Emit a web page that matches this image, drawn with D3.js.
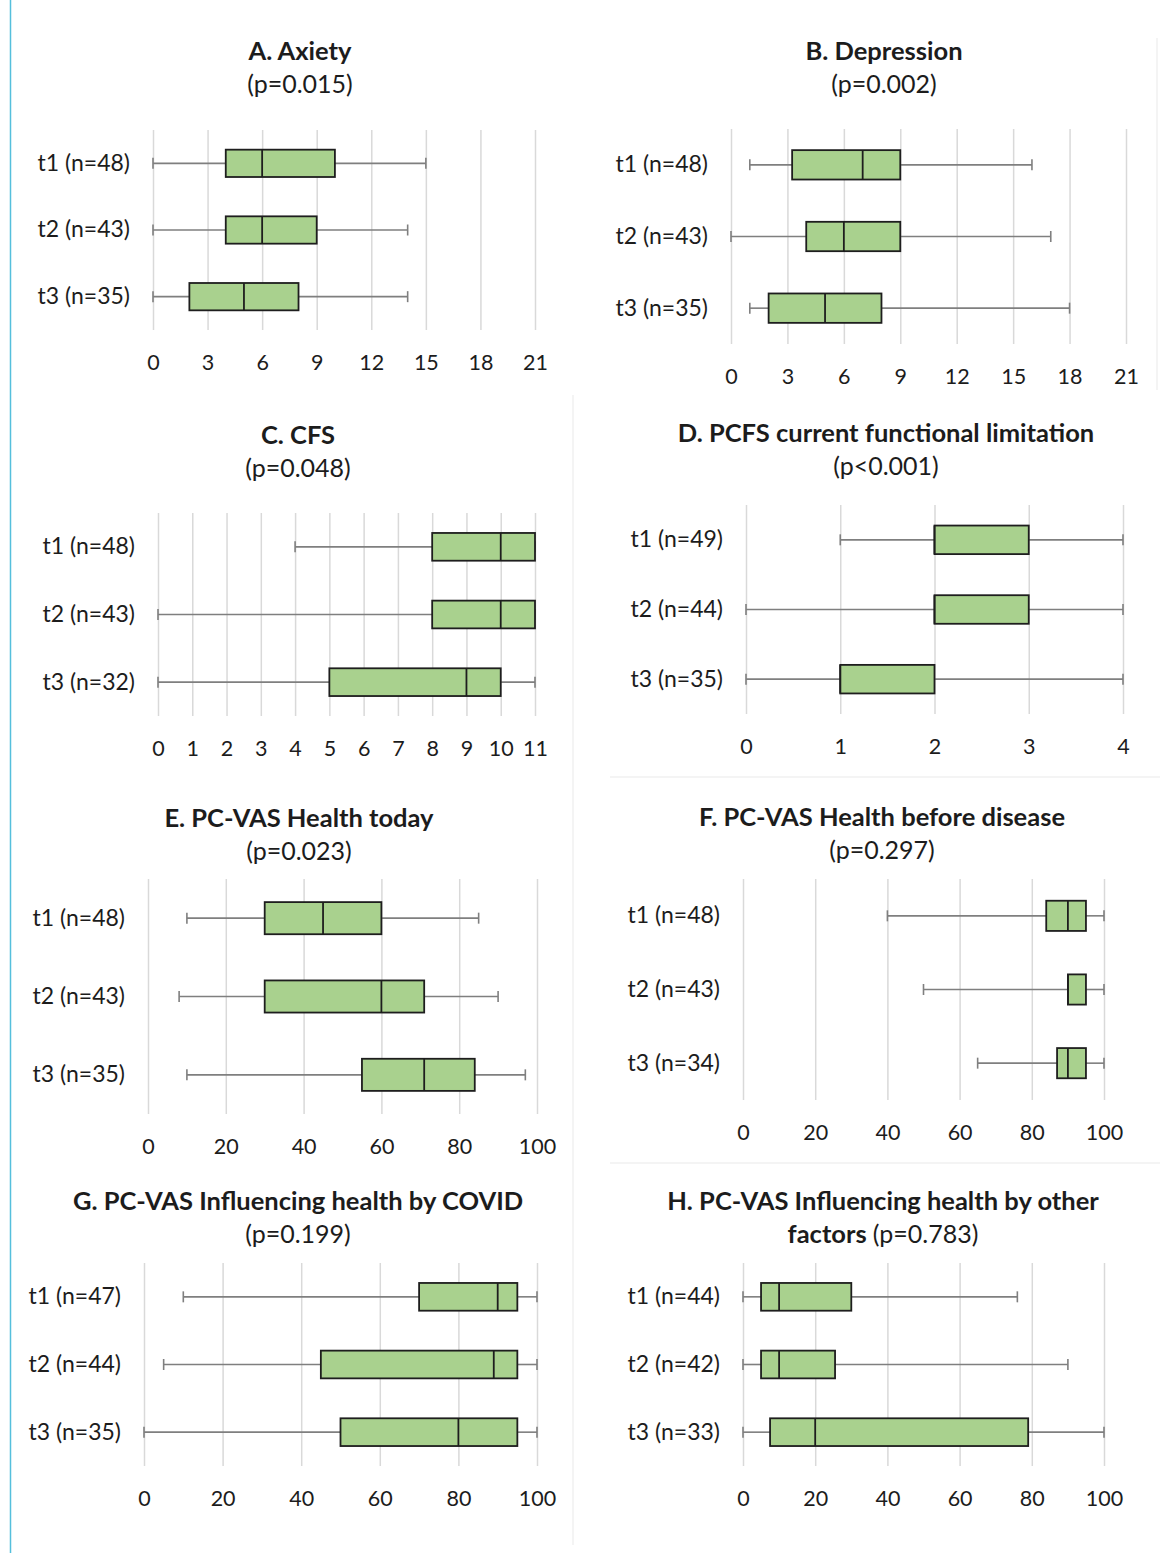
<!DOCTYPE html>
<html><head><meta charset="utf-8">
<script src="https://cdn.jsdelivr.net/npm/d3@7"></script>
<style>html,body{margin:0;padding:0;background:#fff;}svg{display:block;}</style>
</head><body>
<script>
// ---- data ----
const catsA = ["t1 (n=48)", "t2 (n=43)", "t3 (n=35)"];
const catsB = ["t1 (n=48)", "t2 (n=43)", "t3 (n=35)"];
const catsC = ["t1 (n=48)", "t2 (n=43)", "t3 (n=32)"];
const catsD = ["t1 (n=49)", "t2 (n=44)", "t3 (n=35)"];
const catsE = ["t1 (n=48)", "t2 (n=43)", "t3 (n=35)"];
const catsF = ["t1 (n=48)", "t2 (n=43)", "t3 (n=34)"];
const catsG = ["t1 (n=47)", "t2 (n=44)", "t3 (n=35)"];
const catsH = ["t1 (n=44)", "t2 (n=42)", "t3 (n=33)"];

// [min, q1, median, q3, max]
const boxA = [[0, 4, 6, 10, 15], [0, 4, 6, 9, 14], [0, 2, 5, 8, 14]];
const boxB = [[1, 3.25, 7, 9, 16], [0, 4, 6, 9, 17], [1, 2, 5, 8, 18]];
const boxC = [[4, 8, 10, 11, 11], [0, 8, 10, 11, 11], [0, 5, 9, 10, 11]];
const boxD = [[1, 2, 2, 3, 4], [0, 2, 2, 3, 4], [0, 1, 1, 2, 4]];
const boxE = [[10, 30, 45, 60, 85], [8, 30, 60, 71, 90], [10, 55, 71, 84, 97]];
const boxF = [[40, 84, 90, 95, 100], [50, 90, 90, 95, 100], [65, 87, 90, 95, 100]];
const boxG = [[10, 70, 90, 95, 100], [5, 45, 89, 95, 100], [0, 50, 80, 95, 100]];
const boxH = [[0, 5, 10, 30, 76], [0, 5, 10, 25.5, 90], [0, 7.5, 20, 79, 100]];

const ticksA = [0, 3, 6, 9, 12, 15, 18, 21];
const ticksB = [0, 3, 6, 9, 12, 15, 18, 21];
const ticksC = [0, 1, 2, 3, 4, 5, 6, 7, 8, 9, 10, 11];
const ticksD = [0, 1, 2, 3, 4];
const ticksVAS = [0, 20, 40, 60, 80, 100];

const titles = ["A. Axiety", "B. Depression", "C. CFS", "D. PCFS current functional limitation",
  "E. PC-VAS Health today", "F. PC-VAS Health before disease", "G. PC-VAS Influencing health by COVID",
  "H. PC-VAS Influencing health by other"];
const pvals = ["(p=0.015)", "(p=0.002)", "(p=0.048)", "(p<0.001)", "(p=0.023)", "(p=0.297)", "(p=0.199)", "(p=0.783)"];
const secondLineBold = ["", "", "", "", "", "", "", "factors"];

// ---- layout ----
const W = 1175, H = 1553;
const svg = d3.select("body").append("svg").attr("width", W).attr("height", H);
const FONT = "Lato, 'Open Sans', sans-serif";
const TXT = "#1c1c1c";

const panels = [
  {cats: catsA, boxes: boxA, ticks: ticksA, cx: 300, ty: 50, x0: 153, x1: 535, top: 130, bot: 330},
  {cats: catsB, boxes: boxB, ticks: ticksB, cx: 884, ty: 50, x0: 731, x1: 1126, top: 129, bot: 344},
  {cats: catsC, boxes: boxC, ticks: ticksC, cx: 298, ty: 434, x0: 158, x1: 535, top: 513, bot: 716},
  {cats: catsD, boxes: boxD, ticks: ticksD, cx: 886, ty: 432, x0: 746, x1: 1123, top: 505, bot: 714},
  {cats: catsE, boxes: boxE, ticks: ticksVAS, cx: 299, ty: 817, x0: 148, x1: 537, top: 879, bot: 1114},
  {cats: catsF, boxes: boxF, ticks: ticksVAS, cx: 882, ty: 816, x0: 743, x1: 1104, top: 879, bot: 1100},
  {cats: catsG, boxes: boxG, ticks: ticksVAS, cx: 298, ty: 1200, x0: 144, x1: 537, top: 1263, bot: 1466},
  {cats: catsH, boxes: boxH, ticks: ticksVAS, cx: 883, ty: 1200, x0: 743, x1: 1104, top: 1263, bot: 1466}
];

// faint panel separators
const sep = svg.append("g").attr("stroke", "#f0f0f0").attr("stroke-width", 1.5);
sep.append("line").attr("x1", 573).attr("x2", 573).attr("y1", 395).attr("y2", 1545);
sep.append("line").attr("x1", 1157).attr("x2", 1157).attr("y1", 38).attr("y2", 390);
sep.append("line").attr("x1", 610).attr("x2", 1160).attr("y1", 777).attr("y2", 777);
sep.append("line").attr("x1", 610).attr("x2", 1160).attr("y1", 1163).attr("y2", 1163);

// left cyan rule
svg.append("line").attr("x1", 10.5).attr("x2", 10.5).attr("y1", 0).attr("y2", H)
  .attr("stroke", "#55bfdc").attr("stroke-width", 1.5);

panels.forEach((p, i) => {
  const g = svg.append("g");
  const x = d3.scaleLinear().domain([p.ticks[0], p.ticks[p.ticks.length - 1]]).range([p.x0, p.x1]);
  const y = d3.scaleBand().domain(p.cats).range([p.top, p.bot]);
  const bh = y.bandwidth() * 0.41;

  // title
  g.append("text").attr("x", p.cx).attr("y", p.ty).attr("text-anchor", "middle")
    .attr("dominant-baseline", "central").attr("font-family", FONT).attr("font-weight", "bold")
    .attr("font-size", 25.5).attr("fill", TXT).text(titles[i]);
  const st = g.append("text").attr("x", p.cx).attr("y", p.ty + 33).attr("text-anchor", "middle")
    .attr("dominant-baseline", "central").attr("font-family", FONT)
    .attr("font-size", 25).attr("fill", TXT);
  if (secondLineBold[i]) {
    st.append("tspan").attr("font-weight", "bold").attr("font-size", 25.5).text(secondLineBold[i] + " ");
  }
  st.append("tspan").text(pvals[i]);

  // gridlines + tick labels
  const ax = d3.axisBottom(x).tickValues(p.ticks).tickSize(-(p.bot - p.top)).tickPadding(20).tickFormat(d3.format("d"));
  const axg = g.append("g").attr("transform", `translate(0,${p.bot})`).call(ax);
  axg.select(".domain").remove();
  axg.selectAll(".tick line").attr("stroke", "#d9d9d9").attr("stroke-width", 1.5);
  axg.selectAll(".tick text").attr("font-family", FONT).attr("font-size", 21.5).attr("fill", TXT)
    .attr("y", 32).attr("dy", "0.35em");

  // category labels
  const ay = d3.axisLeft(y).tickSize(0).tickPadding(23);
  const ayg = g.append("g").attr("transform", `translate(${p.x0},0)`).call(ay);
  ayg.select(".domain").remove();
  ayg.selectAll(".tick text").attr("font-family", FONT).attr("font-size", 23).attr("fill", TXT);

  // boxes
  p.boxes.forEach((b, j) => {
    const cy = y(p.cats[j]) + y.bandwidth() / 2;
    const wg = g.append("g").attr("stroke", "#7f7f7f").attr("stroke-width", 1.6);
    wg.append("line").attr("x1", x(b[0])).attr("x2", x(b[1])).attr("y1", cy).attr("y2", cy);
    wg.append("line").attr("x1", x(b[3])).attr("x2", x(b[4])).attr("y1", cy).attr("y2", cy);
    wg.append("line").attr("x1", x(b[0])).attr("x2", x(b[0])).attr("y1", cy - 5.5).attr("y2", cy + 5.5);
    wg.append("line").attr("x1", x(b[4])).attr("x2", x(b[4])).attr("y1", cy - 5.5).attr("y2", cy + 5.5);
    g.append("rect").attr("x", x(b[1])).attr("y", cy - bh / 2).attr("width", x(b[3]) - x(b[1]))
      .attr("height", bh).attr("fill", "#a9d18e").attr("stroke", "#1e1e1e").attr("stroke-width", 1.8);
    g.append("line").attr("x1", x(b[2])).attr("x2", x(b[2])).attr("y1", cy - bh / 2).attr("y2", cy + bh / 2)
      .attr("stroke", "#1e1e1e").attr("stroke-width", 1.8);
  });
});
</script>
</body></html>
